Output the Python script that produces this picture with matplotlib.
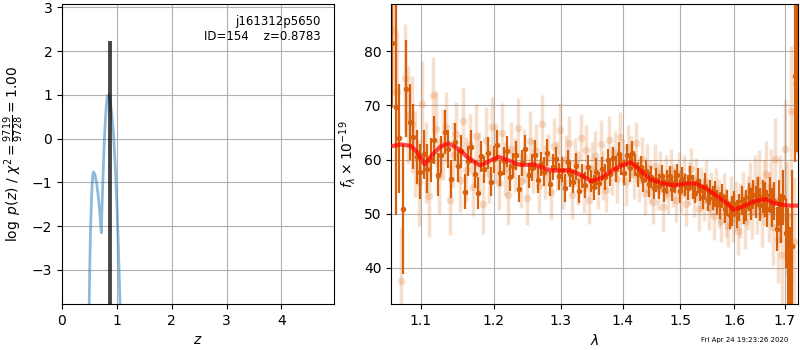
import numpy as np
import matplotlib
matplotlib.use("Agg")
import matplotlib.pyplot as plt
from matplotlib.ticker import FixedLocator, FormatStrFormatter, NullLocator

# redshift fit: log p(z) curve and best redshift
z_grid = [0.495, 0.505, 0.52, 0.54, 0.56, 0.575, 0.60, 0.63, 0.66, 0.69, 0.717,
          0.735, 0.75, 0.77, 0.79, 0.81, 0.83, 0.85, 0.87, 0.89, 0.91, 0.94,
          0.97, 1.00, 1.03, 1.06]
logpz = [-3.9, -3.0, -2.1, -1.3, -0.85, -0.76, -0.82, -1.0, -1.3, -1.7, -2.15,
         -1.35, -0.78, -0.1, 0.4, 0.78, 0.97, 1.0, 0.95, 0.75, 0.55, 0.1,
         -0.6, -1.45, -2.55, -3.85]
z_best = 0.8783
pz_peak = 2.22
chi2_num, chi2_den = 9719, 9728
obj_root = "j161312p5650"
obj_id = 154

# spectrum: binned (dark) and unbinned (light) points, G141 pixel grid
lam_step = 0.0046
flux_bin = [81.5, 69.8, 63.9, 50.9, 73.1, 66.9, 64.2, 60.5, 57.8, 61.0,
            58.3, 59.9, 63.6, 57.2, 60.8, 65.1, 61.9, 56.4, 63.2, 58.8,
            61.5, 54.1, 59.7, 62.4, 57.3, 53.8, 60.6, 58.2, 61.2, 55.9,
            60.1, 62.7, 57.6, 59.8, 61.5, 56.7, 58.9, 60.8, 54.6, 59.4,
            61.9, 57.1, 58.5, 60.9, 56.3, 59.2, 57.8, 61.3, 55.5, 58.6,
            60.2, 56.9, 58.1, 54.8, 59.6, 57.4, 55.9, 58.8, 54.2, 57.0,
            55.3, 58.6, 56.1, 54.9, 57.8, 55.6, 58.3, 56.8, 59.9, 57.4,
            60.3, 58.2, 61.0, 59.1, 57.6, 60.8, 58.4, 61.2, 59.0, 57.3,
            58.6, 56.2, 57.9, 55.4, 56.8, 54.7, 56.2, 55.1, 57.0, 54.3,
            55.8, 56.9, 54.6, 55.9, 57.1, 54.2, 56.5, 55.3, 54.8, 56.7,
            55.0, 53.9, 56.1, 54.4, 53.1, 55.2, 52.6, 54.0, 52.9, 53.7,
            52.1, 51.6, 53.3, 50.8, 51.9, 49.7, 50.5, 51.8, 49.9, 51.2,
            52.4, 50.6, 51.5, 53.1, 51.8, 53.5, 52.2, 54.0, 51.7, 53.2,
            52.6, 50.9, 53.4, 51.1, 52.3, 47.2, 52.0, 49.1, 53.0, 46.4,
            42.1, 37.5, 44.0, 75.5, 81.4]
err_bin = [12, 20, 10, 12, 9, 7, 6, 5, 5, 4.5,
           4.5, 4, 4.5, 4, 3.5, 4, 3.5, 3.5, 3.5, 3,
           3, 3.2, 2.8, 3, 2.6, 3, 2.8, 2.5, 3, 2.7,
           2.5, 2.8, 2.4, 2.6, 2.9, 2.5, 2.3, 2.7, 2.5, 2.4,
           2.6, 2.3, 2.5, 2.8, 2.4, 2.2, 2.6, 2.5, 2.3, 2.4,
           2.2, 2.5, 2.3, 2.6, 2.2, 2.4, 2.1, 2.5, 2.3, 2.2,
           2.4, 2.2, 2.0, 2.3, 2.5, 2.1, 2.2, 2.4, 2.0, 2.3,
           2.1, 2.4, 2.2, 2.0, 2.3, 2.1, 2.5, 2.2, 2.0, 2.3,
           2.1, 2.2, 2.0, 2.4, 2.1, 2.0, 2.2, 2.3, 2.0, 2.1,
           2.2, 2.0, 2.3, 2.1, 2.0, 2.2, 2.1, 2.0, 2.3, 2.1,
           2.2, 2.0, 2.3, 2.1, 2.2, 2.4, 2.1, 2.3, 2.2, 2.4,
           2.3, 2.5, 2.2, 2.6, 2.4, 2.5, 2.7, 2.4, 2.6, 2.5,
           2.7, 2.5, 2.8, 2.6, 2.9, 2.7, 3.0, 2.8, 3.1, 3.0,
           3.2, 3.4, 3.3, 3.6, 3.5, 4.0, 4.2, 4.5, 5.0, 6.5,
           9, 10, 14, 16, 20]

flux_raw = [84.0, 72.5, 37.6, 75.0, 68.2, 66.5, 61.0, 55.8, 70.3, 59.4,
            53.2, 71.9, 65.6, 57.0, 62.8, 66.0, 52.5, 60.9, 64.7, 56.3,
            67.2, 58.1, 62.9, 55.0, 64.3, 59.6, 51.8, 63.7, 57.4, 66.1,
            61.2, 55.6, 64.9, 58.3, 53.4, 62.0, 59.0, 65.8, 56.1, 60.7,
            52.9, 63.4, 58.8, 61.6, 55.2, 66.5, 57.7, 60.3, 54.0, 62.6,
            58.9, 65.4, 55.8, 60.0, 63.1, 53.5, 59.4, 56.6, 64.0, 54.7,
            61.8, 52.6, 58.2, 60.7, 55.3, 62.9, 57.1, 54.4, 63.6, 58.0,
            61.2, 56.5, 64.2, 59.8, 55.9, 62.4, 60.6, 57.3, 63.0, 56.2,
            60.1, 53.8, 58.4, 56.0, 52.1, 58.9, 54.6, 57.6, 51.3, 56.8,
            53.9, 58.0, 55.2, 52.5, 57.4, 54.1, 56.9, 51.8, 55.6, 58.2,
            53.4, 56.3, 50.9, 54.7, 52.6, 55.9, 51.0, 53.8, 49.6, 54.5,
            51.9, 48.7, 53.0, 50.2, 47.8, 52.4, 49.3, 51.5, 46.9, 50.6,
            53.2, 48.5, 52.0, 54.6, 50.4, 55.3, 51.7, 56.2, 49.9, 53.9,
            57.4, 51.2, 55.0, 47.5, 60.1, 45.2, 52.8, 42.3, 62.0, 49.5,
            39.1, 69.0, 44.8, 74.0, 79.5]
err_raw = [12, 11, 10, 10, 9, 9, 8, 8, 8, 7.5,
           7.5, 7, 7, 7, 6.5, 6.5, 6.5, 6, 6, 6,
           6, 6, 5.5, 5.5, 6, 5.5, 5.5, 6, 5.5, 5.5,
           5.5, 5, 5.5, 5, 5.5, 5, 5, 5.5, 5, 5,
           5, 5.5, 5, 5, 5, 5.5, 5, 4.5, 5, 5,
           4.5, 5, 5, 4.5, 5, 4.5, 4.5, 5, 4.5, 4.5,
           4.5, 4.5, 5, 4.5, 4.5, 4.5, 4.5, 4, 4.5, 4.5,
           4, 4.5, 4.5, 4, 4.5, 4, 4, 4.5, 4, 4,
           4, 4, 4.5, 4, 4, 4, 4, 4, 4.5, 4,
           4, 4, 4, 4, 4, 4, 4, 4, 4, 4,
           4, 4, 4, 4, 4, 4, 4, 4, 4.5, 4,
           4.5, 4, 4.5, 4.5, 4, 4.5, 4.5, 4.5, 4.5, 5,
           4.5, 5, 5, 5, 5, 5.5, 5.5, 5.5, 6, 6,
           6, 6.5, 7, 7, 7.5, 8, 8, 9, 9, 10,
           11, 12, 12, 13, 14]

# best-fit template model
lam_model = [1.062, 1.075, 1.087, 1.096, 1.105, 1.115, 1.126, 1.137, 1.150, 1.165,
             1.181, 1.195, 1.207, 1.222, 1.239, 1.259, 1.284, 1.316, 1.335, 1.348,
             1.365, 1.380, 1.398, 1.414, 1.430, 1.448, 1.470, 1.489, 1.510, 1.528,
             1.545, 1.569, 1.585, 1.600, 1.620, 1.639, 1.662, 1.679, 1.706, 1.728]
flux_model = [62.5, 62.8, 62.5, 61.2, 59.1, 60.9, 62.4, 63.0, 62.0, 60.2,
              58.9, 59.8, 60.5, 59.8, 59.0, 59.1, 58.0, 58.0, 57.0, 56.0,
              56.6, 57.8, 58.9, 59.5, 58.0, 56.3, 55.6, 55.2, 55.6, 55.6,
              54.8, 53.2, 52.0, 50.7, 51.5, 52.3, 52.7, 51.9, 51.5, 51.5]

lam_bin = 1.0625 + lam_step * np.arange(len(flux_bin))
lam_raw = 1.0648 + lam_step * np.arange(len(flux_raw))

spec_color = '#d9600a'

fig = plt.figure(figsize=(8, 3.5), dpi=100)
ax1 = fig.add_axes([0.0775, 0.131, 0.34, 0.857])
ax2 = fig.add_axes([0.489, 0.131, 0.509, 0.857])

# left: log p(z)
ax1.plot(z_grid, logpz, color='tab:blue', alpha=0.5, lw=2)
ax1.vlines(z_best, -3.78, pz_peak, color='k', alpha=0.72, lw=2.8)
ax1.set_xlim(0, 4.96)
ax1.set_ylim(-3.78, 3.07)
ax1.set_xticks([0, 1, 2, 3, 4])
ax1.set_yticks([-3, -2, -1, 0, 1, 2, 3])
ax1.grid(color='#b0b0b0')
ax1.set_xlabel(r'$z$', fontsize=10)
ax1.set_ylabel(r'$\log\ p(z)$ / $\chi^2=\frac{%d}{%d}=%.2f$'
               % (chi2_num, chi2_den, chi2_num / chi2_den), fontsize=10)
ax1.text(0.95, 0.965, '%s\nID=%d    z=%.4f' % (obj_root, obj_id, z_best),
         ha='right', va='top', transform=ax1.transAxes, fontsize=8.5)

# right: spectrum
ax2.errorbar(lam_raw, flux_raw, yerr=err_raw, fmt='o', color=spec_color,
             alpha=0.2, ms=5.5, elinewidth=2.5, mew=0)
ax2.errorbar(lam_bin, flux_bin, yerr=err_bin, fmt='o', color=spec_color,
             ms=4, elinewidth=1.6, mew=0)
ax2.plot(lam_model, flux_model, color='r', alpha=0.7, lw=3, zorder=5)
ax2.set_xscale('log')
ax2.xaxis.set_major_locator(FixedLocator([1.1, 1.2, 1.3, 1.4, 1.5, 1.6, 1.7]))
ax2.xaxis.set_major_formatter(FormatStrFormatter('%.1f'))
ax2.xaxis.set_minor_locator(NullLocator())
ax2.set_xlim(1.0615, 1.728)
ax2.set_ylim(33.3, 88.7)
ax2.set_yticks([40, 50, 60, 70, 80])
ax2.grid(color='#b0b0b0')
ax2.set_xlabel(r'$\lambda$', fontsize=10)
ax2.set_ylabel(r'$f_\lambda\times10^{-19}$', fontsize=10)

fig.text(0.985, 0.028, 'Fri Apr 24 19:23:26 2020', ha='right', va='center',
         fontsize=5)

fig.savefig('out.png', dpi=100)
